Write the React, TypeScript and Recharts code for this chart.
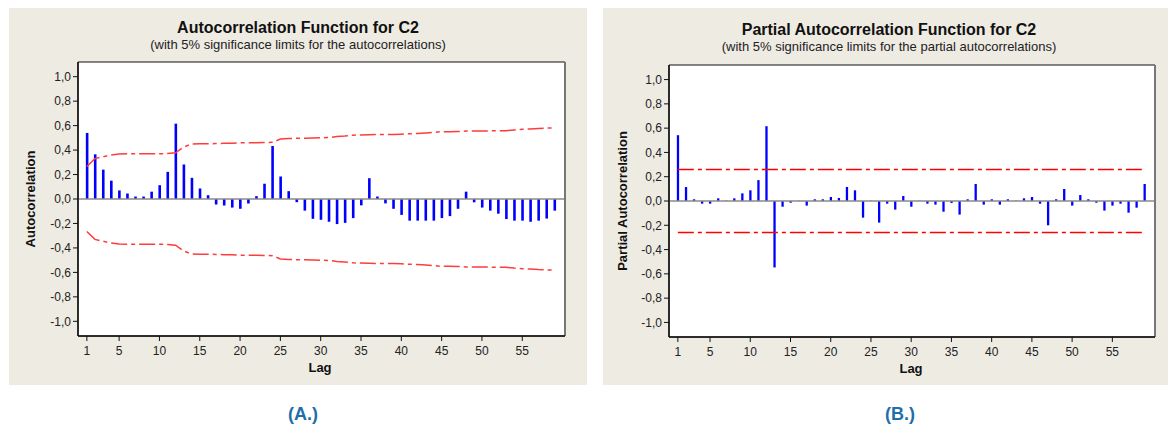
import React from "react";
import { ComposedChart, Bar, Line, XAxis, YAxis, ReferenceLine, ReferenceArea } from "recharts";

// lags 1..59
const lags = [
  1, 2, 3, 4, 5, 6, 7, 8, 9, 10, 11, 12, 13, 14, 15, 16, 17, 18, 19, 20,
  21, 22, 23, 24, 25, 26, 27, 28, 29, 30, 31, 32, 33, 34, 35, 36, 37, 38, 39, 40,
  41, 42, 43, 44, 45, 46, 47, 48, 49, 50, 51, 52, 53, 54, 55, 56, 57, 58, 59,
];

// autocorrelations (A.)
const acfValues = [
  0.54, 0.365, 0.24, 0.15, 0.07, 0.045, 0.02, 0.02, 0.06, 0.113,
  0.222, 0.616, 0.282, 0.173, 0.086, 0.031, -0.045, -0.053, -0.07, -0.08,
  -0.037, 0.023, 0.125, 0.433, 0.184, 0.064, -0.026, -0.095, -0.162, -0.17,
  -0.186, -0.205, -0.195, -0.156, -0.052, 0.17, 0.02, -0.036, -0.08, -0.13,
  -0.177, -0.177, -0.177, -0.177, -0.156, -0.14, -0.08, 0.06, -0.027, -0.07,
  -0.095, -0.12, -0.164, -0.177, -0.177, -0.186, -0.177, -0.16, -0.095,
];

// 5% significance limit (upper, the lower one is its mirror)
const acfLimits = [
  0.265, 0.33, 0.345, 0.36, 0.367, 0.37, 0.37, 0.37, 0.37, 0.37,
  0.372, 0.378, 0.425, 0.45, 0.452, 0.452, 0.453, 0.455, 0.456, 0.46,
  0.46, 0.46, 0.462, 0.463, 0.49, 0.495, 0.496, 0.497, 0.498, 0.5,
  0.503, 0.51, 0.515, 0.522, 0.524, 0.525, 0.527, 0.527, 0.528, 0.53,
  0.533, 0.535, 0.54, 0.545, 0.55, 0.55, 0.552, 0.555, 0.555, 0.556,
  0.557, 0.558, 0.558, 0.565, 0.57, 0.572, 0.577, 0.58, 0.58,
];

// partial autocorrelations (B.)
const pacfValues = [
  0.542, 0.115, 0.014, -0.022, -0.022, 0.022, 0.003, 0.022, 0.063, 0.088,
  0.172, 0.616, -0.547, -0.047, -0.014, 0.002, -0.038, 0.014, 0.014, 0.033,
  0.025, 0.115, 0.088, -0.137, 0.002, -0.178, -0.022, -0.071, 0.041, -0.047,
  0.002, -0.022, -0.03, -0.088, -0.016, -0.112, 0.014, 0.14, -0.03, 0.014,
  -0.03, 0.014, 0.003, 0.022, 0.033, -0.022, -0.2, 0.014, 0.099, -0.038,
  0.049, 0.014, -0.014, -0.079, -0.038, -0.022, -0.096, -0.055, 0.14,
];

const pacfLimit = 0.26;

const lagTicks = [1, 5, 10, 15, 20, 25, 30, 35, 40, 45, 50, 55];
const corrTicks = [-1, -0.8, -0.6, -0.4, -0.2, 0, 0.2, 0.4, 0.6, 0.8, 1];

const FONT = '"Liberation Sans", Arial, sans-serif';
const X_DOMAIN = [-0.1, 60.3];
const Y_DOMAIN = [-1.12, 1.12];
const BEIGE = "#eeebe2";
const Y_AXIS_W = 40;
const X_AXIS_H = 30;

const fmt = (v: number) => v.toFixed(1).replace(".", ",");

const acfData = lags.map((lag, i) => ({
  lag,
  value: acfValues[i],
  upper: acfLimits[i],
  lower: -acfLimits[i],
}));

const pacfData = lags.map((lag, i) => ({ lag, value: pacfValues[i] }));

type Box = { top: number; left: number; right: number; bottom: number };

type PlotProps = {
  data: any[];
  left: number;
  width: number;
  plot: Box; // plot area insets inside the svg
  upper: any;
  lower: any;
  limitColor: string;
  barSize: number;
};

const CorrPlot = ({ data, left, width, plot, upper, lower, limitColor, barSize }: PlotProps) => (
  <div style={{ position: "absolute", left, top: 0 }}>
    {/* white plotting area behind the svg */}
    <div
      style={{
        position: "absolute",
        left: plot.left,
        top: plot.top,
        width: width - plot.left - plot.right,
        height: 400 - plot.top - plot.bottom,
        background: "#fff",
      }}
    />
    <div style={{ position: "absolute", left: 0, top: 0 }}>
      <ComposedChart
        width={width}
        height={400}
        data={data}
        margin={{
          top: plot.top,
          right: plot.right,
          left: plot.left - Y_AXIS_W,
          bottom: plot.bottom - X_AXIS_H,
        }}
      >
        <XAxis
          dataKey="lag"
          type="number"
          domain={X_DOMAIN}
          ticks={lagTicks}
          interval={0}
          allowDataOverflow
          height={X_AXIS_H}
          tickSize={5}
          tickMargin={5}
          tick={{ fontSize: 12, fill: "#222", fontFamily: FONT }}
          axisLine={{ stroke: "#111", strokeWidth: 1.5 }}
          tickLine={{ stroke: "#111" }}
        />
        <YAxis
          type="number"
          domain={Y_DOMAIN}
          ticks={corrTicks}
          interval={0}
          allowDataOverflow
          width={Y_AXIS_W}
          tickSize={5}
          tickMargin={2}
          tickFormatter={fmt}
          tick={{ fontSize: 12, fill: "#222", fontFamily: FONT }}
          axisLine={{ stroke: "#111", strokeWidth: 1.5 }}
          tickLine={{ stroke: "#111" }}
        />
        <ReferenceLine y={0} stroke="#8a8a8a" strokeWidth={1.5} />
        <Bar dataKey="value" fill="#0000ff" barSize={barSize} isAnimationActive={false} />
        <Line
          dataKey={upper}
          stroke={limitColor}
          strokeWidth={1.5}
          strokeDasharray="16 4 4 4"
          dot={false}
          activeDot={false}
          isAnimationActive={false}
        />
        <Line
          dataKey={lower}
          stroke={limitColor}
          strokeWidth={1.5}
          strokeDasharray="16 4 4 4"
          dot={false}
          activeDot={false}
          isAnimationActive={false}
        />
        <ReferenceArea
          x1={X_DOMAIN[0]}
          x2={X_DOMAIN[1]}
          y1={Y_DOMAIN[0]}
          y2={Y_DOMAIN[1]}
          fill="none"
          stroke="#111"
        />
        <ReferenceLine x={X_DOMAIN[1]} stroke="#777" strokeWidth={2} />
      </ComposedChart>
    </div>
  </div>
);

const App = () => (
  <div
    style={{
      position: "absolute",
      left: 0,
      top: 0,
      width: 1170,
      height: 428,
      background: "#fff",
      overflow: "hidden",
    }}
  >
    <div style={{ position: "absolute", left: 9, top: 8, width: 578, height: 377, background: BEIGE }} />
    <div style={{ position: "absolute", left: 603, top: 8, width: 565, height: 377, background: BEIGE }} />

    <CorrPlot
      data={acfData}
      left={0}
      width={600}
      plot={{ top: 62, left: 78, right: 35, bottom: 64 }}
      upper="upper"
      lower="lower"
      limitColor="#ff3b3b"
      barSize={2.6}
    />
    <CorrPlot
      data={pacfData}
      left={590}
      width={580}
      plot={{ top: 65, left: 79, right: 15, bottom: 63 }}
      upper={() => pacfLimit}
      lower={() => -pacfLimit}
      limitColor="#ff0000"
      barSize={2.3}
    />

    <svg
      width={1170}
      height={428}
      style={{ position: "absolute", left: 0, top: 0, pointerEvents: "none" }}
      fontFamily={FONT}
    >
      <text x={298} y={33} textAnchor="middle" fontSize={16} fontWeight="bold" fill="#111">
        Autocorrelation Function for C2
      </text>
      <text x={298} y={48.5} textAnchor="middle" fontSize={13} fill="#222">
        (with 5% significance limits for the autocorrelations)
      </text>
      <text transform="translate(35,199) rotate(-90)" textAnchor="middle" fontSize={13} fontWeight="bold" fill="#111">
        Autocorrelation
      </text>
      <text x={320} y={371.5} textAnchor="middle" fontSize={13} fontWeight="bold" fill="#111">
        Lag
      </text>

      <text x={889} y={34.5} textAnchor="middle" fontSize={16} fontWeight="bold" fill="#111">
        Partial Autocorrelation Function for C2
      </text>
      <text x={889} y={50.5} textAnchor="middle" fontSize={13} fill="#222">
        (with 5% significance limits for the partial autocorrelations)
      </text>
      <text transform="translate(627,201) rotate(-90)" textAnchor="middle" fontSize={13} fontWeight="bold" fill="#111">
        Partial Autocorrelation
      </text>
      <text x={911} y={373} textAnchor="middle" fontSize={13} fontWeight="bold" fill="#111">
        Lag
      </text>

      <text x={303} y={420} textAnchor="middle" fontSize={18} fontWeight="bold" fill="#1f6ea8">
        (A.)
      </text>
      <text x={900} y={420} textAnchor="middle" fontSize={18} fontWeight="bold" fill="#1f6ea8">
        (B.)
      </text>
    </svg>
  </div>
);

export default App;
